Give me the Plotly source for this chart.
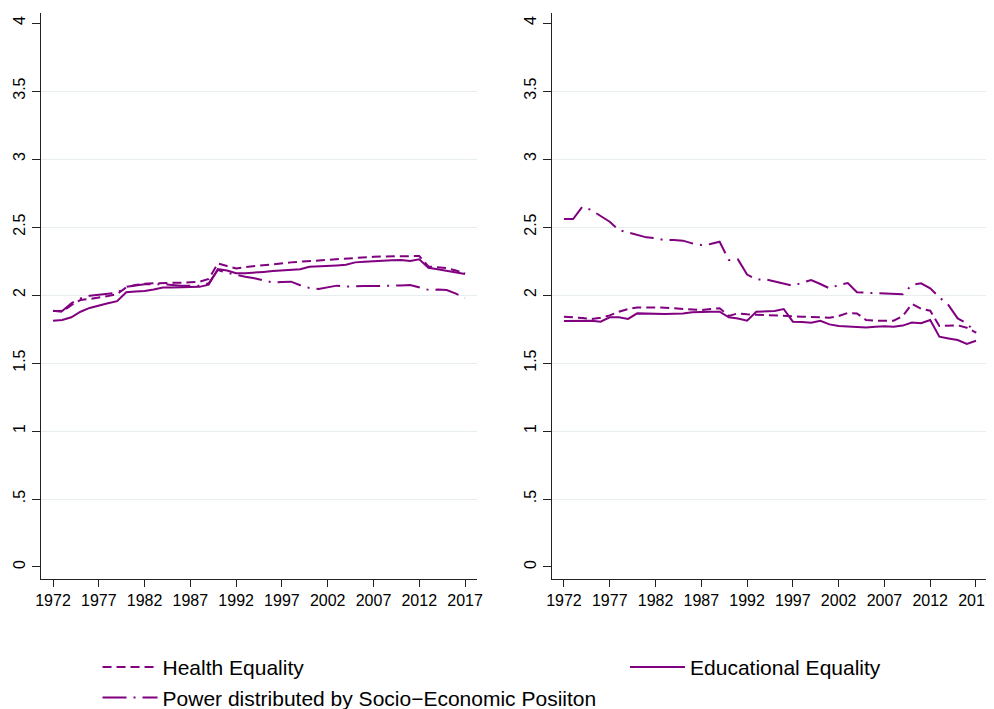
import plotly.graph_objects as go

# años
years = list(range(1972, 2018))

# panel izquierdo
health_left = [1.885, 1.877, 1.926, 1.963, 1.971, 1.980, 1.993, 2.007, 2.056, 2.074,
               2.083, 2.086, 2.086, 2.088, 2.091, 2.094, 2.098, 2.118, 2.233, 2.213,
               2.196, 2.205, 2.213, 2.220, 2.228, 2.236, 2.240, 2.245, 2.250, 2.255,
               2.260, 2.263, 2.268, 2.275, 2.279, 2.281, 2.283, 2.285, 2.288, 2.290,
               2.287, 2.210, 2.205, 2.198, 2.180, 2.160]
edu_left = [1.810, 1.816, 1.836, 1.877, 1.905, 1.925, 1.940, 1.955, 2.020, 2.026,
            2.030, 2.040, 2.056, 2.056, 2.056, 2.058, 2.060, 2.076, 2.190, 2.180,
            2.160, 2.160, 2.163, 2.170, 2.176, 2.182, 2.186, 2.190, 2.208, 2.210,
            2.213, 2.218, 2.222, 2.240, 2.245, 2.250, 2.252, 2.255, 2.257, 2.250,
            2.262, 2.200, 2.190, 2.180, 2.168, 2.155]
power_left = [1.882, 1.882, 1.939, 1.975, 1.995, 2.003, 2.010, 2.017, 2.061, 2.071,
              2.080, 2.080, 2.080, 2.074, 2.068, 2.068, 2.068, 2.086, 2.184, 2.164,
              2.147, 2.135, 2.123, 2.105, 2.092, 2.096, 2.098, 2.072, 2.052, 2.045,
              2.056, 2.069, 2.063, 2.066, 2.066, 2.066, 2.066, 2.066, 2.070, 2.074,
              2.055, 2.038, 2.040, 2.037, 2.010, 1.980]

# panel derecho
health_right = [1.841, 1.838, 1.831, 1.824, 1.833, 1.850, 1.877, 1.897, 1.909, 1.909,
                1.909, 1.907, 1.902, 1.897, 1.890, 1.890, 1.897, 1.902, 1.846, 1.865,
                1.858, 1.856, 1.853, 1.850, 1.846, 1.843, 1.841, 1.838, 1.836, 1.833,
                1.846, 1.868, 1.865, 1.816, 1.811, 1.809, 1.811, 1.846, 1.934, 1.900,
                1.885, 1.772, 1.772, 1.777, 1.760, 1.723]
edu_right = [1.809, 1.811, 1.811, 1.811, 1.804, 1.836, 1.836, 1.824, 1.865, 1.863,
             1.863, 1.860, 1.863, 1.865, 1.873, 1.877, 1.877, 1.877, 1.836, 1.828,
             1.811, 1.877, 1.877, 1.882, 1.897, 1.804, 1.801, 1.797, 1.811, 1.784,
             1.772, 1.767, 1.765, 1.762, 1.767, 1.770, 1.767, 1.775, 1.797, 1.792,
             1.816, 1.694, 1.681, 1.669, 1.640, 1.664]
power_right = [2.559, 2.559, 2.649, 2.625, 2.581, 2.539, 2.478, 2.461, 2.441, 2.424,
               2.417, 2.404, 2.404, 2.400, 2.380, 2.368, 2.375, 2.392, 2.257, 2.262,
               2.150, 2.115, 2.115, 2.098, 2.086, 2.069, 2.090, 2.110, 2.081, 2.049,
               2.074, 2.088, 2.020, 2.017, 2.017, 2.015, 2.010, 2.005, 2.074, 2.086,
               2.049, 1.983, 1.926, 1.828, 1.790, 1.723]

x_ticks = list(range(1972, 2018, 5))
y_ticks = [0, 0.5, 1, 1.5, 2, 2.5, 3, 3.5, 4]
y_labels = ["0", ".5", "1", "1.5", "2", "2.5", "3", "3.5", "4"]

color = "#800080"
dash_health = "9px,5px"
dash_power = "24px,7px,2px,7px"

fig = go.Figure()

paneles = [("x", "y", health_left, edu_left, power_left, True),
           ("x2", "y2", health_right, edu_right, power_right, False)]

for xa, ya, h, e, p, show in paneles:
    fig.add_trace(go.Scatter(x=years, y=h, mode="lines", name="Health Equality",
                             line=dict(color=color, width=2, dash=dash_health),
                             xaxis=xa, yaxis=ya, showlegend=show, legend="legend"))
    fig.add_trace(go.Scatter(x=years, y=e, mode="lines", name="Educational Equality",
                             line=dict(color=color, width=2),
                             xaxis=xa, yaxis=ya, showlegend=show, legend="legend2"))
    fig.add_trace(go.Scatter(x=years, y=p, mode="lines",
                             name="Power distributed by Socio\u2212Economic Posiiton",
                             line=dict(color=color, width=2, dash=dash_power),
                             xaxis=xa, yaxis=ya, showlegend=show, legend="legend"))

ejes_x = dict(range=[1970.69, 2018.31], tickvals=x_ticks, ticks="outside", ticklen=7,
              tickwidth=1.2, tickcolor="#222", showline=True, linecolor="#222", linewidth=1.3,
              showgrid=False, zeroline=False, automargin=False, ticklabeloverflow="allow",
              tickfont=dict(size=16, color="black"))
ejes_y = dict(range=[-0.088, 4.074], tickvals=y_ticks, ticktext=y_labels, tickangle=-90,
              ticks="outside", ticklen=8, tickwidth=1.2, tickcolor="#222", showline=True,
              linecolor="#222", linewidth=1.3, showgrid=False, zeroline=False,
              automargin=False, ticklabeloverflow="allow",
              tickfont=dict(size=16, color="black"),
              minor=dict(tickvals=[0.5, 1, 1.5, 2, 2.5, 3, 3.5], showgrid=True,
                         gridcolor="#e6eef0", gridwidth=1, ticks=""))

# la página añade 8px de margen al body, así que la figura es algo más pequeña
fig.update_layout(
    width=986, height=701,
    margin=dict(l=0, r=0, t=0, b=0, autoexpand=False),
    paper_bgcolor="white", plot_bgcolor="white",
    font=dict(family="Liberation Sans, Arial, sans-serif", color="black"),
    xaxis=dict(domain=[0.0335, 0.4757], anchor="y", **ejes_x),
    yaxis=dict(domain=[0.1855, 0.9929], anchor="x", **ejes_y),
    xaxis2=dict(domain=[0.5517, 0.9939], anchor="y2", **ejes_x),
    yaxis2=dict(domain=[0.1855, 0.9929], anchor="x2", **ejes_y),
    legend=dict(x=0.0908, y=0.0885, xanchor="left", yanchor="top", orientation="v",
                font=dict(size=21), itemwidth=55, bgcolor="rgba(0,0,0,0)", tracegroupgap=0),
    legend2=dict(x=0.6258, y=0.0885, xanchor="left", yanchor="top", orientation="v",
                 font=dict(size=21), itemwidth=55, bgcolor="rgba(0,0,0,0)"),
    showlegend=True,
)

fig.write_html("out.html")
